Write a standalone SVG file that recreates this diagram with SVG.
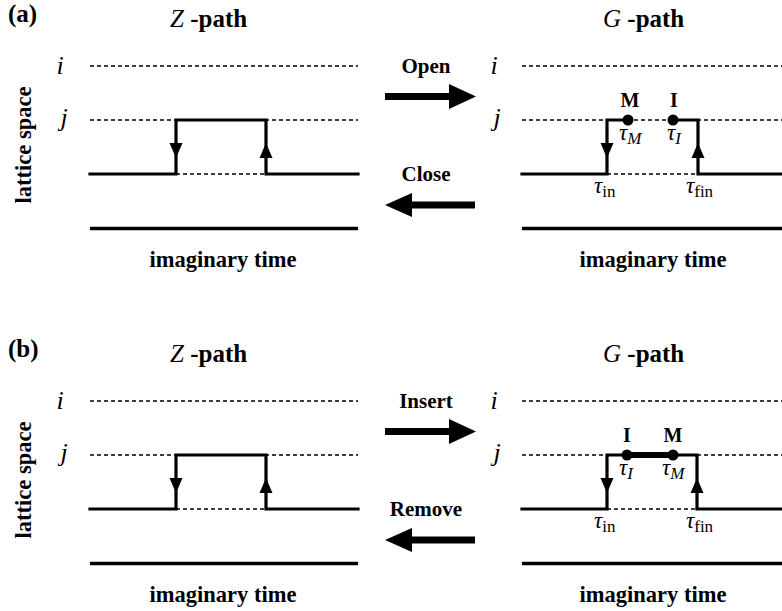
<svg xmlns="http://www.w3.org/2000/svg" width="782" height="611" viewBox="0 0 782 611">
<style>
.t{font-family:"Liberation Serif","Times New Roman",serif;fill:#000}
.b{font-weight:bold}
.it{font-style:italic}
.dot{stroke:#000;stroke-width:1.4;stroke-dasharray:4 3;fill:none}
.pth{stroke:#000;stroke-width:3.2;fill:none;stroke-linejoin:miter;stroke-linecap:square}
.axis{stroke:#000;stroke-width:3.5;fill:none}
.ah{fill:#000}
</style>
<defs>
<g id="down"><polygon points="-6.5,-15 6.5,-15 0,0" class="ah"/></g>
<g id="up"><polygon points="-6.5,15 6.5,15 0,0" class="ah"/></g>
</defs>

<!-- Panel (a) -->
<g id="panel-a">
<text class="t b" x="8" y="22" font-size="25">(a)</text>
<g id="a-z-title"><text class="t" x="170" y="27" font-size="25"><tspan class="it">Z</tspan><tspan class="b"> -path</tspan></text></g>
<g id="a-g-title"><text class="t" x="603" y="27" font-size="25"><tspan class="it">G</tspan><tspan class="b"> -path</tspan></text></g>
<text class="t b" font-size="22.5" text-anchor="middle" transform="translate(31,145) rotate(-90)">lattice space</text>

<g id="a-z">
<text class="t it" x="60" y="74" font-size="26" text-anchor="middle">i</text>
<text class="t it" x="64" y="126" font-size="26" text-anchor="middle">j</text>
<line class="dot" x1="90" y1="66" x2="358" y2="66"/>
<line class="dot" x1="90" y1="120" x2="358" y2="120"/>
<line class="dot" x1="176" y1="174" x2="266" y2="174"/>
<path class="pth" d="M90,174 H176 V120 H266 V174 H358"/>
<use href="#down" x="176" y="158"/>
<use href="#up" x="266" y="143"/>
<line class="axis" x1="90" y1="228.5" x2="358" y2="228.5"/>
<text class="t b" x="223" y="267" font-size="22.5" text-anchor="middle">imaginary time</text>
</g>

<g id="a-g">
<text class="t it" x="494" y="74" font-size="26" text-anchor="middle">i</text>
<text class="t it" x="497" y="126" font-size="26" text-anchor="middle">j</text>
<line class="dot" x1="522" y1="66" x2="782" y2="66"/>
<line class="dot" x1="522" y1="120" x2="782" y2="120"/>
<line class="dot" x1="607" y1="174" x2="698" y2="174"/>
<path class="pth" d="M522,174 H607 V120 H628"/>
<path class="pth" d="M673,120 H698 V174 H790"/>
<use href="#down" x="607" y="158"/>
<use href="#up" x="698" y="143"/>
<circle cx="628" cy="120" r="5.5" class="ah"/>
<circle cx="673" cy="120" r="5.5" class="ah"/>
<text class="t b" x="630" y="107" font-size="20" text-anchor="middle">M</text>
<text class="t b" x="674" y="107" font-size="20" text-anchor="middle">I</text>
<text class="t" x="619" y="140" font-size="23"><tspan class="it">τ</tspan><tspan class="it" font-size="17" dy="4">M</tspan></text>
<text class="t" x="667" y="140" font-size="23"><tspan class="it">τ</tspan><tspan class="it" font-size="17" dy="4">I</tspan></text>
<text class="t" x="594" y="193" font-size="23"><tspan class="it">τ</tspan><tspan font-size="17" dy="4">in</tspan></text>
<text class="t" x="686" y="193" font-size="23"><tspan class="it">τ</tspan><tspan font-size="17" dy="4">fin</tspan></text>
<line class="axis" x1="522" y1="228.5" x2="782" y2="228.5"/>
<text class="t b" x="653" y="267" font-size="22.5" text-anchor="middle">imaginary time</text>
</g>

<g id="a-arrows">
<text class="t b" x="426" y="73" font-size="21" text-anchor="middle">Open</text>
<rect x="385" y="93" width="67" height="7" class="ah"/>
<polygon points="449,84 476,96.5 449,109" class="ah"/>
<text class="t b" x="426" y="181" font-size="21" text-anchor="middle">Close</text>
<rect x="408" y="201.5" width="67" height="7" class="ah"/>
<polygon points="412,193 385,205 412,217" class="ah"/>
</g>
</g>

<!-- Panel (b) -->
<g id="panel-b">
<text class="t b" x="8" y="357" font-size="25">(b)</text>
<g id="b-z-title"><text class="t" x="170" y="362" font-size="25"><tspan class="it">Z</tspan><tspan class="b"> -path</tspan></text></g>
<g id="b-g-title"><text class="t" x="603" y="362" font-size="25"><tspan class="it">G</tspan><tspan class="b"> -path</tspan></text></g>
<text class="t b" font-size="22.5" text-anchor="middle" transform="translate(31,480) rotate(-90)">lattice space</text>

<g id="b-z">
<text class="t it" x="60" y="409" font-size="26" text-anchor="middle">i</text>
<text class="t it" x="64" y="461" font-size="26" text-anchor="middle">j</text>
<line class="dot" x1="90" y1="401" x2="358" y2="401"/>
<line class="dot" x1="90" y1="455" x2="358" y2="455"/>
<line class="dot" x1="176" y1="509" x2="266" y2="509"/>
<path class="pth" d="M90,509 H176 V455 H266 V509 H358"/>
<use href="#down" x="176" y="493"/>
<use href="#up" x="266" y="478"/>
<line class="axis" x1="90" y1="563.5" x2="358" y2="563.5"/>
<text class="t b" x="223" y="602" font-size="22.5" text-anchor="middle">imaginary time</text>
</g>

<g id="b-g">
<text class="t it" x="494" y="409" font-size="26" text-anchor="middle">i</text>
<text class="t it" x="497" y="461" font-size="26" text-anchor="middle">j</text>
<line class="dot" x1="522" y1="401" x2="782" y2="401"/>
<line class="dot" x1="522" y1="455" x2="782" y2="455"/>
<line class="dot" x1="607" y1="509" x2="697" y2="509"/>
<path class="pth" d="M522,509 H607 V455 H697 V509 H790"/>
<line x1="627" y1="455" x2="673" y2="455" stroke="#000" stroke-width="6"/>
<use href="#down" x="607" y="493"/>
<use href="#up" x="697" y="478"/>
<circle cx="627" cy="455" r="5.5" class="ah"/>
<circle cx="673" cy="455" r="5.5" class="ah"/>
<text class="t b" x="627" y="442" font-size="20" text-anchor="middle">I</text>
<text class="t b" x="673" y="442" font-size="20" text-anchor="middle">M</text>
<text class="t" x="619" y="475" font-size="23"><tspan class="it">τ</tspan><tspan class="it" font-size="17" dy="4">I</tspan></text>
<text class="t" x="662" y="475" font-size="23"><tspan class="it">τ</tspan><tspan class="it" font-size="17" dy="4">M</tspan></text>
<text class="t" x="594" y="528" font-size="23"><tspan class="it">τ</tspan><tspan font-size="17" dy="4">in</tspan></text>
<text class="t" x="686" y="528" font-size="23"><tspan class="it">τ</tspan><tspan font-size="17" dy="4">fin</tspan></text>
<line class="axis" x1="522" y1="563.5" x2="782" y2="563.5"/>
<text class="t b" x="653" y="602" font-size="22.5" text-anchor="middle">imaginary time</text>
</g>

<g id="b-arrows">
<text class="t b" x="426" y="408" font-size="21" text-anchor="middle">Insert</text>
<rect x="385" y="428" width="67" height="7" class="ah"/>
<polygon points="449,419 476,431.5 449,444" class="ah"/>
<text class="t b" x="426" y="516" font-size="21" text-anchor="middle">Remove</text>
<rect x="408" y="536.5" width="67" height="7" class="ah"/>
<polygon points="412,528 385,540 412,552" class="ah"/>
</g>
</g>
</svg>
